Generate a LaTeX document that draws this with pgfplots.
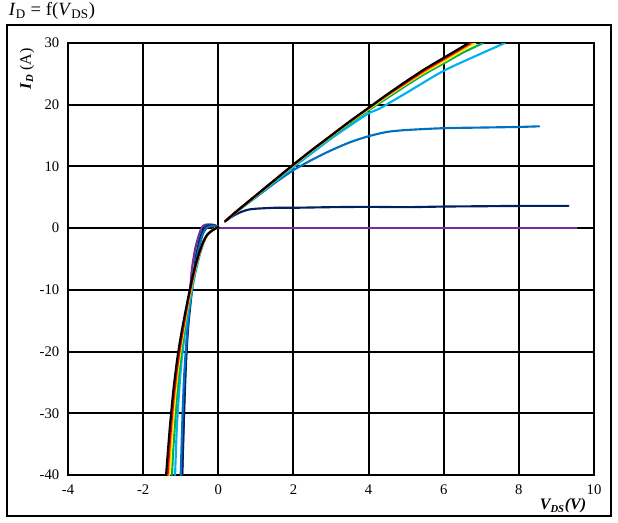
\documentclass[border=0pt]{standalone}
\usepackage{pgfplots}
\pgfplotsset{compat=1.18}
\usepackage{fontspec}
\setmainfont{Liberation Serif}
\definecolor{cRed}{HTML}{FF0000}
\definecolor{cOrange}{HTML}{FFC000}
\definecolor{cYellow}{HTML}{FFFF00}
\definecolor{cGreen}{HTML}{00B050}
\definecolor{cCyan}{HTML}{00B0F0}
\definecolor{cBlue}{HTML}{0070C0}
\definecolor{cNavy}{HTML}{002060}
\definecolor{cPurple}{HTML}{7030A0}
\begin{document}
\begin{tikzpicture}
\path (0pt,0pt) rectangle (463.5pt,391.5pt);
\draw[line width=1.1pt] (5.25pt,4.5pt) rectangle (458.25pt,372.75pt);
\node[anchor=base west, inner sep=0pt, font=\fontsize{14}{16}\selectfont] at (6.5pt,379.5pt) {\textit{I}\textsubscript{D} = f(\textit{V}\textsubscript{DS})};
\begin{axis}[at={(51pt,35.25pt)}, anchor=south west, scale only axis,
  width=394.5pt, height=324pt,
  xmin=-4, xmax=10, ymin=-40, ymax=30,
  xtick={-4,-2,...,10}, ytick={-40,-30,...,30},
  grid=major, major grid style={black, line width=1.5pt},
  axis line style={black, line width=1.5pt},
  tick style={draw=none},
  tick label style={font=\fontsize{11}{13}\selectfont},
  /pgf/number format/assume math mode=true,
  xticklabel style={yshift=-4pt},
  yticklabel style={xshift=-3pt},
  every axis plot/.append style={line width=1.6pt, line join=round, line cap=round, mark=none, smooth, tension=0.4},
]
% purple
\addplot[cPurple] coordinates {(0,0.2)(-0.1,0.5)(-0.2,0.6)(-0.3,0.6)(-0.4,0.4)(-0.47,-0.3)(-0.55,-1.8)(-0.62,-3.5)(-0.7,-6.5)(-0.75,-10)(-0.82,-16)(-0.88,-23)(-0.92,-31)(-0.96,-40)};
\addplot[cPurple] coordinates {(0.05,0)(9.54,0)};
% navy
\addplot[cNavy] coordinates {(0,0.2)(-0.1,0.4)(-0.2,0.45)(-0.3,0.35)(-0.4,-0.2)(-0.5,-2.0)(-0.6,-4.8)(-0.7,-10)(-0.8,-16)(-0.86,-22)(-0.91,-30)(-0.96,-40)};
\addplot[cNavy] coordinates {(0.18,1.1)(0.4,2.0)(0.6,2.6)(0.8,3.0)(1.0,3.15)(1.5,3.3)(2,3.3)(3,3.4)(4,3.45)(5,3.4)(6,3.5)(7,3.55)(8,3.6)(9.32,3.6)};
% blue
\addplot[cBlue] coordinates {(0,0.2)(-0.1,0.3)(-0.2,0.3)(-0.3,0.1)(-0.4,-0.8)(-0.5,-2.8)(-0.6,-5.6)(-0.7,-9.8)(-0.8,-15)(-0.9,-23)(-0.95,-30)(-1.0,-40)};
\addplot[cBlue] coordinates {(0.18,1.1)(0.5,2.7)(1,5.0)(1.5,7.3)(2,9.4)(2.5,11.1)(3,12.6)(3.5,13.9)(4,14.9)(4.5,15.6)(5,15.9)(6,16.2)(7,16.3)(8,16.4)(8.54,16.5)};
% cyan
\addplot[cCyan] coordinates {(0,0.2)(-0.1,-0.1)(-0.2,-0.5)(-0.3,-1.2)(-0.4,-2.5)(-0.5,-4.5)(-0.6,-7.0)(-0.7,-10)(-0.8,-13.5)(-0.9,-17.5)(-1.0,-23)(-1.1,-32)(-1.15,-40)};
\addplot[cCyan] coordinates {(0.18,1.1)(0.5,2.7)(1,5.1)(1.5,7.5)(2,9.9)(2.5,12.2)(3,14.5)(3.5,16.6)(4,18.6)(4.3,19.4)(5,21.9)(6,25.5)(7,28.3)(7.63,30)};
% green
\addplot[cGreen] coordinates {(0,0.2)(-0.1,-0.12)(-0.2,-0.52)(-0.3,-1.15)(-0.4,-2.4)(-0.5,-4.2)(-0.6,-6.5)(-0.7,-9.3)(-0.8,-12.6)(-0.9,-16.5)(-1.0,-21)(-1.1,-27.3)(-1.2,-36)(-1.23,-40)};
\addplot[cGreen] coordinates {(0.18,1.1)(0.5,2.75)(1,5.2)(1.5,7.7)(2,10.2)(2.5,12.6)(3,14.8)(3.5,17.0)(4,19.1)(4.5,21.1)(5,23.1)(5.5,25.0)(6,26.7)(6.5,28.4)(7.05,30)};
% yellow
\addplot[cYellow] coordinates {(0,0.2)(-0.1,-0.12)(-0.2,-0.52)(-0.3,-1.15)(-0.4,-2.3)(-0.5,-4.1)(-0.6,-6.3)(-0.7,-9.0)(-0.8,-12.1)(-0.9,-15.6)(-1.0,-19.5)(-1.1,-24.3)(-1.2,-31)(-1.3,-40)};
\addplot[cYellow] coordinates {(0.18,1.1)(0.5,2.8)(1,5.25)(1.5,7.75)(2,10.2)(2.5,12.6)(3,14.9)(3.5,17.2)(4,19.3)(4.5,21.4)(5,23.4)(5.5,25.3)(6,27.0)(6.5,28.8)(6.84,30)};
% orange
\addplot[cOrange] coordinates {(0,0.2)(-0.1,-0.12)(-0.2,-0.52)(-0.3,-1.12)(-0.4,-2.25)(-0.5,-4.0)(-0.6,-6.2)(-0.7,-8.9)(-0.8,-11.9)(-0.9,-15.3)(-1.0,-19)(-1.1,-23.5)(-1.2,-29.5)(-1.3,-37.5)(-1.33,-40)};
\addplot[cOrange] coordinates {(0.18,1.1)(0.5,2.8)(1,5.25)(1.5,7.8)(2,10.25)(2.5,12.65)(3,14.95)(3.5,17.25)(4,19.4)(4.5,21.5)(5,23.5)(5.5,25.4)(6,27.2)(6.5,29.0)(6.78,30)};
% red
\addplot[cRed] coordinates {(0,0.2)(-0.1,-0.15)(-0.2,-0.55)(-0.3,-1.15)(-0.4,-2.3)(-0.5,-4.0)(-0.6,-6.1)(-0.7,-8.7)(-0.8,-11.7)(-0.9,-15)(-1.0,-18.6)(-1.1,-22.8)(-1.2,-28.2)(-1.3,-35.5)(-1.35,-40)};
\addplot[cRed] coordinates {(0.18,1.1)(0.5,2.8)(1,5.3)(1.5,7.8)(2,10.3)(2.5,12.7)(3,15.0)(3.5,17.3)(4,19.45)(4.5,21.6)(5,23.6)(5.5,25.6)(6,27.4)(6.5,29.2)(6.72,30)};
% black
\addplot[black] coordinates {(0,0.2)(-0.1,-0.15)(-0.2,-0.55)(-0.3,-1.1)(-0.4,-2.2)(-0.5,-3.8)(-0.6,-5.8)(-0.7,-8.3)(-0.8,-11.2)(-0.9,-14.3)(-1.0,-17.6)(-1.1,-21.5)(-1.2,-26.5)(-1.3,-33)(-1.39,-40)};
\addplot[black] coordinates {(0.18,1.1)(0.5,2.8)(1,5.3)(1.5,7.8)(2,10.3)(2.5,12.7)(3,15.0)(3.5,17.3)(4,19.5)(4.5,21.7)(5,23.8)(5.5,25.8)(6,27.6)(6.5,29.4)(6.66,30)};
\end{axis}
\node[font=\fontsize{12}{14}\selectfont] at (422.25pt,12pt) {\textbf{\textit{V\textsubscript{DS}}}\textbf{\textit{(V)}}};
\node[rotate=90, font=\fontsize{12}{14}\selectfont] at (20.25pt,340pt) {\textbf{\textit{I\textsubscript{D}}} (A)};
\end{tikzpicture}
\end{document}
